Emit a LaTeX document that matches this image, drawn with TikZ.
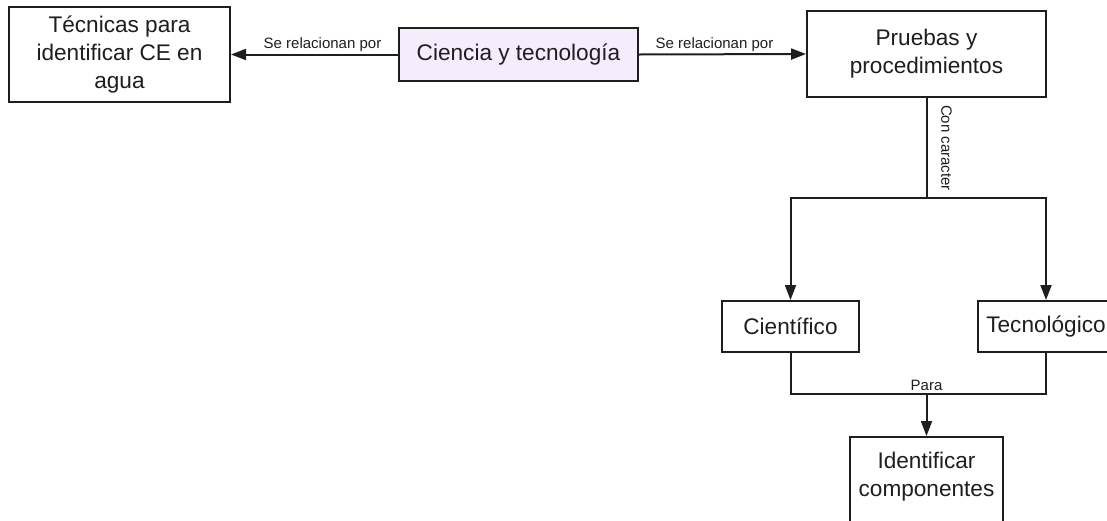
\documentclass[tikz,border=0pt]{standalone}
\usepackage{fontspec}
\setmainfont{Liberation Sans}
\usetikzlibrary{arrows.meta}
\definecolor{ink}{HTML}{1E1E1E}
\definecolor{lav}{HTML}{F6ECFC}
\tikzset{
  box/.style={draw=ink, line width=2pt, fill=white, align=center, inner sep=0pt,
    font=\fontsize{22.6}{28}\selectfont, text=ink},
  boxtext/.style={align=center, inner sep=0pt, font=\fontsize{22.6}{28}\selectfont, text=ink},
  conn/.style={draw=ink, line width=2pt},
  arr/.style={conn, -{Triangle[length=15pt,width=11pt]}},
  lbl/.style={font=\fontsize{15}{18}\selectfont, text=ink, inner sep=1pt}
}
\begin{document}
\begin{tikzpicture}[x=1pt,y=-1pt]
\useasboundingbox (0,0) rectangle (1107,520);
\clip (0,0) rectangle (1107,520);
\node[box, minimum width=221pt, minimum height=95pt] (tec) at (119.5,54.5) {\rule{0pt}{4pt}Técnicas para\\identificar CE en\\agua};
\node[box, fill=lav, minimum width=239pt, minimum height=53pt] (cyt) at (518.5,54.5) {Ciencia y tecnología};
\node[box, minimum width=239pt, minimum height=86pt] (pyp) at (926.5,54) {Pruebas y\\procedimientos};
\node[box, minimum width=137pt, minimum height=51pt] (cie) at (790.5,326.5) {Científico};
\node[box, minimum width=136pt, minimum height=51pt] (tno) at (1046,326.5) {Tecnológico};
\node[box, minimum width=153pt, minimum height=120pt, anchor=north] (ide) at (926.5,436) {};
\node[boxtext] (idetext) at (926.5,477) {Identificar\\componentes};
\coordinate (split) at (926.5,198);
\coordinate (join) at (926.5,394);
\draw[arr] (cyt.west) -- node[lbl, above=1pt, xshift=8pt] {Se relacionan por} (tec.east);
\draw[arr] (cyt.east) -- node[lbl, above=1pt, xshift=-8pt] {Se relacionan por} (pyp.west);
\draw[conn] (pyp.south) -- (split);
\node[lbl, rotate=-90] (concar) at (946.5,148) {Con caracter};
\draw[arr] (split) -| (cie.north);
\draw[arr] (split) -| (tno.north);
\draw[conn] (cie.south) |- (join);
\draw[conn] (tno.south) |- (join);
\node[lbl, above=2pt] (para) at (join) {Para};
\draw[arr] (join) -- (ide.north);
\end{tikzpicture}
\end{document}
